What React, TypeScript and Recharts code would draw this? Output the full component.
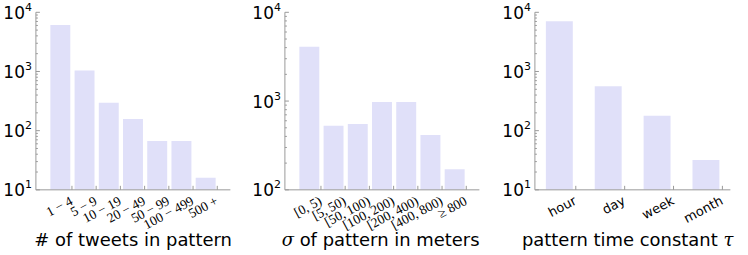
import { BarChart, Bar, XAxis, YAxis } from "recharts";
import type { ReactNode } from "react";

// panel 1: tweets per pattern
const tweetBins = ["1 − 4", "5 − 9", "10 − 19", "20 − 49", "50 − 99", "100 − 499", "500 +"];
const tweetCounts = [6100, 1040, 295, 158, 67, 67, 16];

// panel 2: spatial spread
const sigmaBins = ["[0, 5)", "[5, 50)", "[50, 100)", "[100, 200)", "[200, 400)", "[400, 800)", "≥ 800"];
const sigmaCounts = [4100, 527, 552, 975, 975, 415, 171];

// panel 3: time constant
const timeBins = ["hour", "day", "week", "month"];
const timeCounts = [7050, 565, 178, 32];

const ticksFrom10 = [
  10, 20, 30, 40, 50, 60, 70, 80, 90,
  100, 200, 300, 400, 500, 600, 700, 800, 900,
  1000, 2000, 3000, 4000, 5000, 6000, 7000, 8000, 9000, 10000,
];
const ticksFrom100 = [
  100, 200, 300, 400, 500, 600, 700, 800, 900,
  1000, 2000, 3000, 4000, 5000, 6000, 7000, 8000, 9000, 10000,
];
const majorTicks = [10, 100, 1000, 10000];

const FRAME = "#9a9a9a";
const BAR = "#e0e0f9";
const SANS = "DejaVu Sans";

function YTick(props: any) {
  const { x, y, payload, side } = props;
  const v = payload.value;
  const major = majorTicks.includes(v);
  const len = major ? 4 : 2;
  const dir = side === "left" ? 1 : -1;
  return (
    <g>
      <line x1={x} x2={x + dir * len} y1={y} y2={y} stroke={FRAME} />
      {major && side === "left" && (
        <text x={x - 4} y={y + 6.5} textAnchor="end" fontFamily={SANS} fontSize={17} fill="#000">
          10
          <tspan fontSize={11} dy={-8}>
            {String(Math.round(Math.log10(v)))}
          </tspan>
        </text>
      )}
    </g>
  );
}

function XTick(props: any) {
  const { x, y, payload, shift, top, font, size } = props;
  const tx = x + shift;
  if (top) return <line x1={tx} x2={tx} y1={y} y2={y + 4} stroke={FRAME} />;
  const ax = x + shift - 3;
  const ay = y + 5;
  return (
    <g>
      <line x1={tx} x2={tx} y1={y} y2={y - 4} stroke={FRAME} />
      <text
        x={ax}
        y={ay}
        dy="0.75em"
        textAnchor="end"
        transform={`rotate(-28 ${ax} ${ay})`}
        fontFamily={font}
        fontSize={size}
        fill="#000"
      >
        {payload.value}
      </text>
    </g>
  );
}

interface PanelProps {
  bins: string[];
  counts: number[];
  domain: [number, number];
  ticks: number[];
  title: ReactNode;
  titleDx: number;
  font: string;
  fontSize: number;
  barSize: number;
  pad: number;
  shift: number;
  right: number;
}

function Panel({ bins, counts, domain, ticks, title, titleDx, font, fontSize, barSize, pad, shift, right }: PanelProps) {
  const data = bins.map((name, i) => ({ name, count: counts[i] }));
  return (
    <BarChart width={250} height={255} data={data} margin={{ top: 12, right, bottom: 0, left: 0 }}>
      <XAxis
        xAxisId="b"
        dataKey="name"
        height={65}
        padding={{ left: pad, right: pad }}
        interval={0}
        tickSize={0}
        tickMargin={0}
        tickLine={false}
        axisLine={{ stroke: FRAME }}
        tick={<XTick shift={shift} font={font} size={fontSize} />}
        label={(p: any) => (
          <text
            x={p.viewBox.x + p.viewBox.width / 2 + titleDx}
            y={p.viewBox.y + 56}
            textAnchor="middle"
            fontFamily={SANS}
            fontSize={18}
            fill="#000"
          >
            {title}
          </text>
        )}
      />
      <XAxis
        xAxisId="t"
        orientation="top"
        dataKey="name"
        height={0}
        padding={{ left: pad, right: pad }}
        interval={0}
        tickSize={0}
        tickMargin={0}
        tickLine={false}
        axisLine={{ stroke: FRAME }}
        tick={<XTick shift={shift} top />}
      />
      <YAxis
        yAxisId="l"
        scale="log"
        domain={domain}
        allowDataOverflow
        ticks={ticks}
        interval={0}
        width={36}
        tickSize={0}
        tickMargin={0}
        tickLine={false}
        axisLine={{ stroke: FRAME }}
        tick={<YTick side="left" />}
      />
      <YAxis
        yAxisId="r"
        orientation="right"
        scale="log"
        domain={domain}
        allowDataOverflow
        ticks={ticks}
        interval={0}
        width={0}
        tickSize={0}
        tickMargin={0}
        tickLine={false}
        axisLine={{ stroke: FRAME }}
        tick={<YTick side="right" />}
      />
      <Bar xAxisId="b" yAxisId="l" dataKey="count" fill={BAR} barSize={barSize} isAnimationActive={false} />
    </BarChart>
  );
}

export default function App() {
  return (
    <div style={{ position: "absolute", left: 0, top: 0, width: 748, height: 255, background: "#fff", display: "flex" }}>
      <Panel
        bins={tweetBins}
        counts={tweetCounts}
        domain={[10, 10000]}
        ticks={ticksFrom10}
        title="# of tweets in pattern"
        titleDx={0}
        font="Liberation Serif"
        fontSize={13.5}
        barSize={20}
        pad={12.5}
        shift={11.5}
        right={19}
      />
      <Panel
        bins={sigmaBins}
        counts={sigmaCounts}
        domain={[100, 10000]}
        ticks={ticksFrom100}
        title={
          <>
            <tspan fontFamily="DejaVu Serif" fontStyle="italic">σ</tspan> of pattern in meters
          </>
        }
        titleDx={-1.5}
        font="Liberation Serif"
        fontSize={13.5}
        barSize={20}
        pad={12.5}
        shift={11.5}
        right={19}
      />
      <Panel
        bins={timeBins}
        counts={timeCounts}
        domain={[10, 10000]}
        ticks={ticksFrom10}
        title={
          <>
            pattern time constant <tspan fontFamily="DejaVu Serif" fontStyle="italic">τ</tspan>
          </>
        }
        titleDx={-5}
        font={SANS}
        fontSize={13}
        barSize={27}
        pad={0}
        shift={16.5}
        right={18}
      />
    </div>
  );
}
